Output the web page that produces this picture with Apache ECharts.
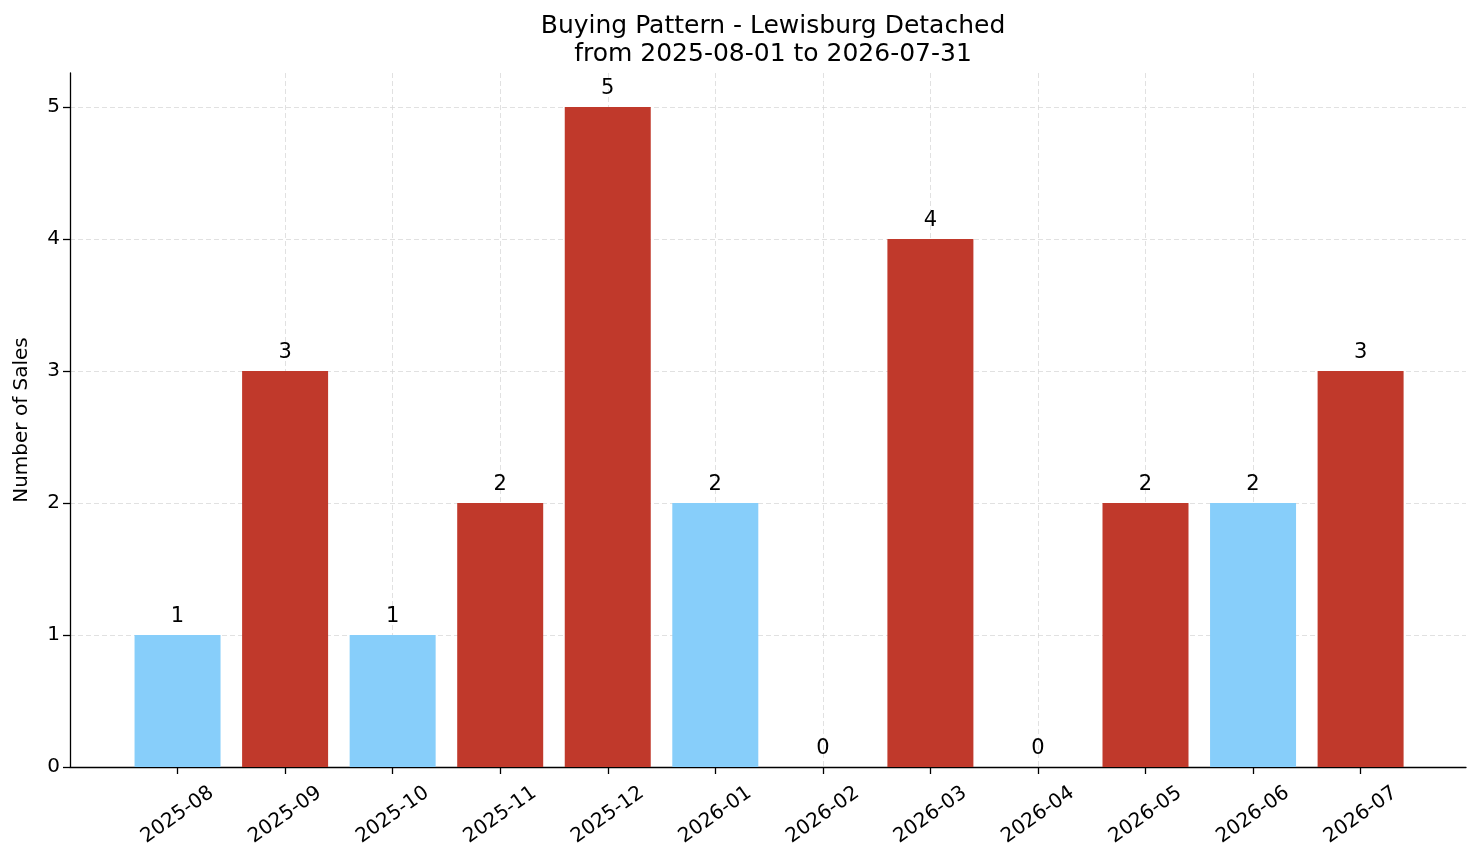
<!DOCTYPE html>
<html>
<head>
    <meta charset="utf-8">
    <title>Buying Pattern</title>
    <script src="https://cdn.jsdelivr.net/npm/echarts@6/dist/echarts.min.js"></script>
</head>
<body style="margin:0;background-color:#fff;">
    <div id="main" style="width:1481px;height:863px;"></div>
    <script type="text/javascript">
        // 月份
        var months = ['2025-08', '2025-09', '2025-10', '2025-11', '2025-12', '2026-01',
                      '2026-02', '2026-03', '2026-04', '2026-05', '2026-06', '2026-07'];
        // 销量
        var sales = [1, 3, 1, 2, 5, 2, 0, 4, 0, 2, 2, 3];
        // 颜色分组 (b = 蓝, r = 红)
        var colorGroup = ['b', 'r', 'b', 'r', 'r', 'b', 'r', 'r', 'r', 'r', 'b', 'r'];
        var yTicks = [0, 1, 2, 3, 4, 5];

        var blue = '#87CEFA', red = '#C0392B';
        var tickPos = months.map(function (m, i) { return i; });

        var barData = sales.map(function (v, i) {
            return {
                value: [i, v],
                itemStyle: { color: colorGroup[i] === 'b' ? blue : red }
            };
        });

        var myChart = echarts.init(document.getElementById('main'));
        var font = 'DejaVu Sans';

        var option = {
            animation: false,
            textStyle: { fontFamily: font },
            title: {
                text: 'Buying Pattern - Lewisburg Detached\nfrom 2025-08-01 to 2026-07-31',
                left: 768,
                textAlign: 'center',
                top: 7,
                textStyle: { fontFamily: font, fontWeight: 'normal', fontSize: 25, lineHeight: 28, color: '#000' }
            },
            grid: { left: 70, right: 15, top: 73, bottom: 96 },
            xAxis: {
                type: 'value',
                min: -1,
                max: 11.98,
                axisLine: { onZero: false, lineStyle: { color: '#000', width: 1.3 } },
                axisTick: { show: true, length: 7, inside: false, customValues: tickPos,
                            lineStyle: { color: '#000', width: 1.3 } },
                splitLine: { show: true, showMinLine: false, showMaxLine: false,
                             lineStyle: { color: '#d9d9d9', type: [5, 3], width: 0.8 } },
                axisLabel: {
                    customValues: tickPos,
                    rotate: 35,
                    margin: 48,
                    align: 'center',
                    verticalAlign: 'middle',
                    fontSize: 20,
                    color: '#000',
                    formatter: function (v) { return months[Math.round(v)]; }
                }
            },
            yAxis: {
                type: 'value',
                min: 0,
                max: 5.258,
                interval: 1,
                name: 'Number of Sales',
                nameLocation: 'middle',
                nameGap: 38,
                nameTextStyle: { fontSize: 20, color: '#000' },
                axisLine: { show: true, onZero: false, lineStyle: { color: '#000', width: 1.3 } },
                axisTick: { show: true, length: 7, lineStyle: { color: '#000', width: 1.3 } },
                splitLine: { show: true, showMinLine: false, showMaxLine: false,
                             lineStyle: { color: '#d9d9d9', type: [5, 3], width: 0.8 } },
                axisLabel: {
                    fontSize: 20,
                    color: '#000',
                    margin: 10,
                    showMaxLabel: false,
                    formatter: function (v) { return yTicks.indexOf(v) >= 0 ? String(v) : ''; }
                }
            },
            series: [{
                type: 'bar',
                data: barData,
                barWidth: 86,
                label: {
                    show: true,
                    position: 'top',
                    distance: 8,
                    fontSize: 21,
                    color: '#000',
                    formatter: function (p) { return String(p.value[1]); }
                }
            }]
        };
        myChart.setOption(option);
    </script>
</body>
</html>
